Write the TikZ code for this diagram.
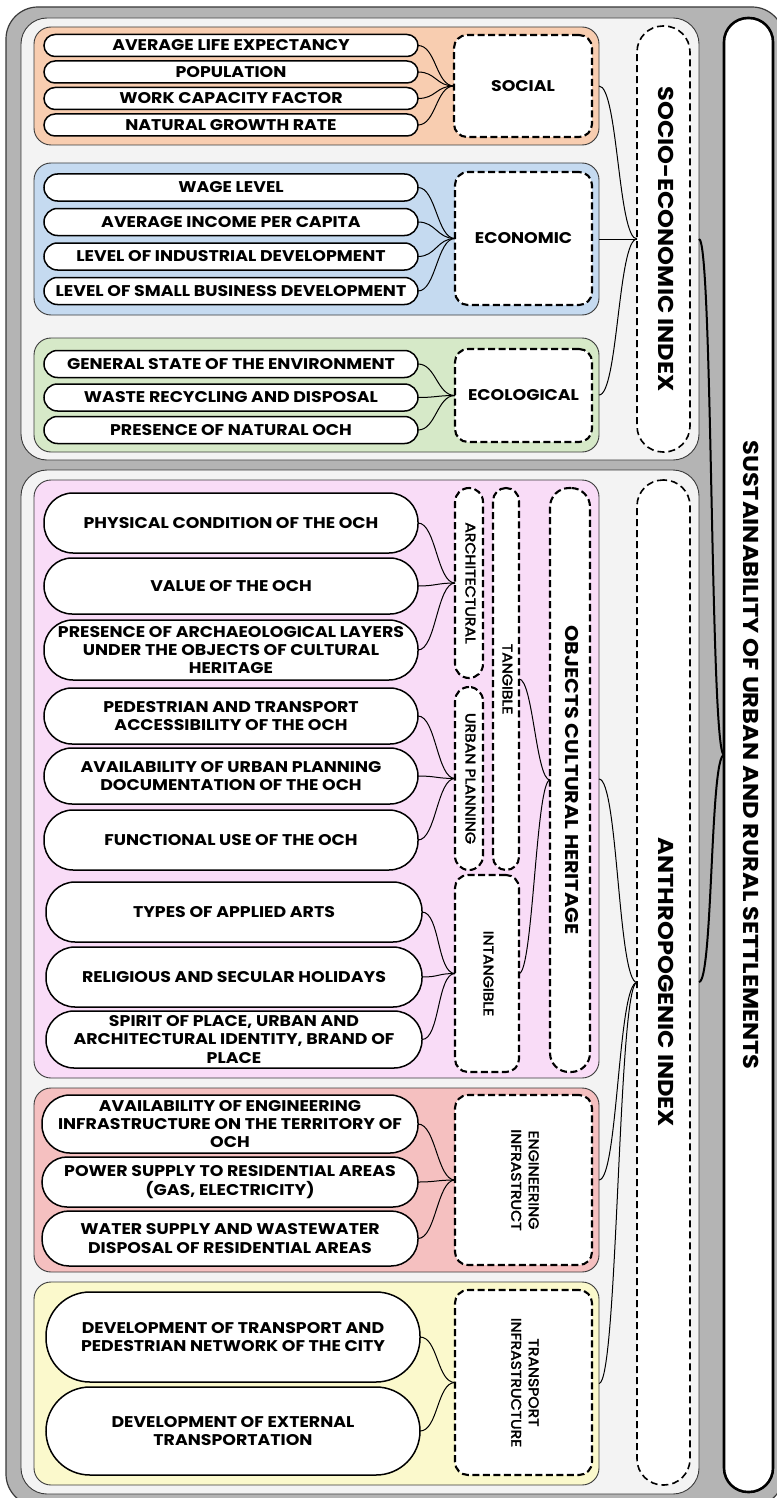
\documentclass[tikz,border=0pt]{standalone}
\usepackage{fontspec}
\setmainfont[FakeStretch=1.12]{Poppins}
\newfontfamily\labfam[FakeStretch=1.12, FakeBold=2.5]{Poppins}
\usetikzlibrary{calc}
\definecolor{outerg}{HTML}{B4B4B4}
\definecolor{panelg}{HTML}{F3F3F3}
\definecolor{socC}{HTML}{F8CDB0}
\definecolor{ecoC}{HTML}{C5DAF0}
\definecolor{ecgC}{HTML}{D6E9C8}
\definecolor{ochC}{HTML}{F9DCF7}
\definecolor{engC}{HTML}{F5C0C0}
\definecolor{trnC}{HTML}{FBF9CC}
\definecolor{edgeC}{HTML}{3A3A3A}
\newcommand\itemtxt{\fontsize{15.5}{18.3}\selectfont\bfseries}
\newcommand\smalltxt{\labfam\fontsize{14}{17.5}\selectfont}
\newcommand\idxtxt{\fontsize{21.5}{24}\selectfont\bfseries}
\newcommand\ochtxt{\fontsize{18.5}{21}\selectfont\bfseries}
\newcommand\mkbox[7]{%
  \pgfmathsetmacro\mkW{#5-#3}\pgfmathsetmacro\mkH{#6-#4}%
  \pgfmathsetmacro\mkX{(#3+#5)/2}\pgfmathsetmacro\mkY{(#4+#6)/2}%
  \node[#1, minimum width=\mkW pt, minimum height=\mkH pt] (#2) at (\mkX,\mkY) {#7};}
\newcommand\rot[1]{\rotatebox{-90}{\begin{tabular}{@{}c@{}}#1\end{tabular}}}
\tikzset{
  outerbox/.style={draw=edgeC, line width=1.2pt, fill=outerg, rounded corners=32pt},
  panel/.style={draw=edgeC, line width=0.9pt, fill=panelg, rounded corners=26pt},
  grp/.style={draw=edgeC, line width=0.9pt, fill=#1, rounded corners=17pt},
  pill/.style={draw=black, line width=1.5pt, fill=white, rounded corners=#1, align=center, font=\itemtxt},
  dbox/.style={draw=black, line width=2.1pt, dash pattern=on 7pt off 3.5pt, fill=white, rounded corners=#1, align=center},
  dindex/.style={draw=black, line width=1.6pt, dash pattern=on 7pt off 4pt, fill=white, rounded corners=26pt},
  sust/.style={draw=black, line width=2.6pt, fill=white, rounded corners=24pt},
  lnk/.style={draw=black, line width=1pt},
  brc/.style={to path={.. controls ($(\tikztostart)+(#1,0)$) and ($(\tikztotarget)+(-#1,0)$) .. (\tikztotarget)}},
  brc/.default=18
}
\begin{document}
\begin{tikzpicture}[x=1pt, y=-1pt, inner sep=0pt, outer sep=0pt]
\useasboundingbox[fill=white] (0,0) rectangle (776,1498);
% frames
\mkbox{outerbox}{outer}{6}{7}{784}{1506}{}
\mkbox{panel}{pse}{21}{18}{699}{460}{}
\mkbox{panel}{pan}{21}{470}{699}{1494}{}
% groups
\mkbox{grp=socC}{gsoc}{34}{27}{599}{145}{}
\mkbox{grp=ecoC}{geco}{34}{163}{599}{315}{}
\mkbox{grp=ecgC}{gecg}{34}{338}{599}{452}{}
\mkbox{grp=ochC}{goch}{34}{480}{599}{1078}{}
\mkbox{grp=engC}{geng}{34}{1088}{599}{1272}{}
\mkbox{grp=trnC}{gtrn}{34}{1282}{599}{1485}{}
% social items
\mkbox{pill=11pt}{s1}{44}{34.5}{418}{56.5}{AVERAGE LIFE EXPECTANCY}
\mkbox{pill=11pt}{s2}{44}{61}{418}{83}{POPULATION}
\mkbox{pill=11pt}{s3}{44}{87.5}{418}{109.5}{WORK CAPACITY FACTOR}
\mkbox{pill=11pt}{s4}{44}{114}{418}{136}{NATURAL GROWTH RATE}
% economic items
\mkbox{pill=13.5pt}{e1}{44}{174}{418}{201}{WAGE LEVEL}
\mkbox{pill=13.5pt}{e2}{44}{208.5}{418}{235.5}{AVERAGE INCOME PER CAPITA}
\mkbox{pill=13.5pt}{e3}{44}{243}{418}{270}{LEVEL OF INDUSTRIAL DEVELOPMENT}
\mkbox{pill=13.5pt}{e4}{44}{277.5}{418}{304.5}{LEVEL OF SMALL BUSINESS DEVELOPMENT}
% ecological items
\mkbox{pill=13.5pt}{g1}{44}{350.5}{418}{377.5}{GENERAL STATE OF THE ENVIRONMENT}
\mkbox{pill=13.5pt}{g2}{44}{384}{418}{411}{WASTE RECYCLING AND DISPOSAL}
\mkbox{pill=13.5pt}{g3}{44}{416.5}{418}{443.5}{PRESENCE OF NATURAL OCH}
% cultural heritage items
\mkbox{pill=29pt}{o1}{44}{493}{418}{553}{PHYSICAL CONDITION OF THE OCH}
\mkbox{pill=28pt}{o2}{44}{558}{418}{614}{VALUE OF THE OCH}
\mkbox{pill=29pt}{o3}{44}{620}{418}{680}{PRESENCE OF ARCHAEOLOGICAL LAYERS\\UNDER THE OBJECTS OF CULTURAL\\HERITAGE}
\mkbox{pill=28pt}{o4}{44}{688}{418}{744}{PEDESTRIAN AND TRANSPORT\\ACCESSIBILITY OF THE OCH}
\mkbox{pill=28pt}{o5}{44}{748}{418}{804}{AVAILABILITY OF URBAN PLANNING\\DOCUMENTATION OF THE OCH}
\mkbox{pill=29pt}{o6}{44}{810}{418}{870}{FUNCTIONAL USE OF THE OCH}
\mkbox{pill=29pt}{o7}{46}{882}{422}{942}{TYPES OF APPLIED ARTS}
\mkbox{pill=29pt}{o8}{46}{947}{422}{1007}{RELIGIOUS AND SECULAR HOLIDAYS}
\mkbox{pill=28pt}{o9}{46}{1011}{422}{1068}{SPIRIT OF PLACE, URBAN AND\\ARCHITECTURAL IDENTITY, BRAND OF\\PLACE}
% engineering items
\mkbox{pill=28pt}{n1}{42}{1095}{418}{1153}{AVAILABILITY OF ENGINEERING\\INFRASTRUCTURE ON THE TERRITORY OF\\OCH}
\mkbox{pill=25pt}{n2}{42}{1157}{418}{1207}{POWER SUPPLY TO RESIDENTIAL AREAS\\(GAS, ELECTRICITY)}
\mkbox{pill=27pt}{n3}{42}{1211}{418}{1266}{WATER SUPPLY AND WASTEWATER\\DISPOSAL OF RESIDENTIAL AREAS}
% transport items
\mkbox{pill=44pt}{t1}{46}{1292}{420}{1382}{DEVELOPMENT OF TRANSPORT AND\\PEDESTRIAN NETWORK OF THE CITY}
\mkbox{pill=44pt}{t2}{46}{1387}{420}{1475}{DEVELOPMENT OF EXTERNAL\\TRANSPORTATION}
% group headers
\mkbox{dbox=13pt, font=\itemtxt}{dsoc}{454}{35}{592}{137}{SOCIAL}
\mkbox{dbox=13pt, font=\itemtxt}{deco}{455}{172}{592}{305}{ECONOMIC}
\mkbox{dbox=13pt, font=\itemtxt}{decg}{455}{349}{592}{442}{ECOLOGICAL}
\mkbox{dbox=14pt, font=\smalltxt}{darch}{455}{488}{483}{678}{\rot{ARCHITECTURAL}}
\mkbox{dbox=14pt, font=\smalltxt}{durb}{455}{687}{483}{870}{\rot{URBAN PLANNING}}
\mkbox{dbox=13pt, font=\smalltxt}{dtang}{493}{488}{519}{870}{\rot{TANGIBLE}}
\mkbox{dbox=13pt, font=\smalltxt}{dint}{455}{875}{519}{1072}{\rot{INTANGIBLE}}
\mkbox{dbox=19pt, font=\ochtxt}{doch}{550}{488}{590}{1072}{\rot{OBJECTS CULTURAL HERITAGE}}
\mkbox{dbox=13pt, font=\smalltxt}{deng}{455}{1095}{592}{1265}{\rot{ENGINEERING\\INFRASTRUCT}}
\mkbox{dbox=13pt, font=\smalltxt}{dtrn}{455}{1290}{592}{1475}{\rot{TRANSPORT\\INFRASTRUCTURE}}
% indices
\mkbox{dindex, font=\idxtxt}{dse}{637}{26}{690}{452}{\rot{SOCIO-ECONOMIC INDEX}}
\mkbox{dindex, font=\idxtxt}{dan}{637}{480}{690}{1485}{\rot{ANTHROPOGENIC INDEX}}
\mkbox{sust, font=\idxtxt}{sus}{724}{18}{773}{1492}{\rot{SUSTAINABILITY OF URBAN AND RURAL SETTLEMENTS}}
% connectors: items to groups
\foreach \i in {s1,s2,s3,s4} \draw[lnk] (\i.east) to[brc] (dsoc.west);
\foreach \i in {e1,e2,e3,e4} \draw[lnk] (\i.east) to[brc] (deco.west);
\foreach \i in {g1,g2,g3} \draw[lnk] (\i.east) to[brc] (decg.west);
\foreach \i in {o1,o2,o3} \draw[lnk] (\i.east) to[brc] (darch.west);
\foreach \i in {o4,o5,o6} \draw[lnk] (\i.east) to[brc] (durb.west);
\foreach \i in {o7,o8,o9} \draw[lnk] (\i.east) to[brc] (dint.west);
\foreach \i in {n1,n2,n3} \draw[lnk] (\i.east) to[brc] (deng.west);
\foreach \i in {t1,t2} \draw[lnk] (\i.east) to[brc] (dtrn.west);
\draw[lnk] (dtang.east) to[brc=14] (doch.west);
\draw[lnk] (dint.east) to[brc=14] (doch.west);
% groups to indices
\foreach \i in {gsoc,geco,gecg} \draw[lnk] (\i.east) to[brc=19] (dse.west);
\foreach \i in {goch,geng,gtrn} \draw[lnk] (\i.east) to[brc=19] (dan.west);
% indices to sustainability
\draw[lnk, line width=2pt] (pse.east) to[brc=14] (sus.west);
\draw[lnk, line width=2pt] (pan.east) to[brc=14] (sus.west);
\end{tikzpicture}
\end{document}
